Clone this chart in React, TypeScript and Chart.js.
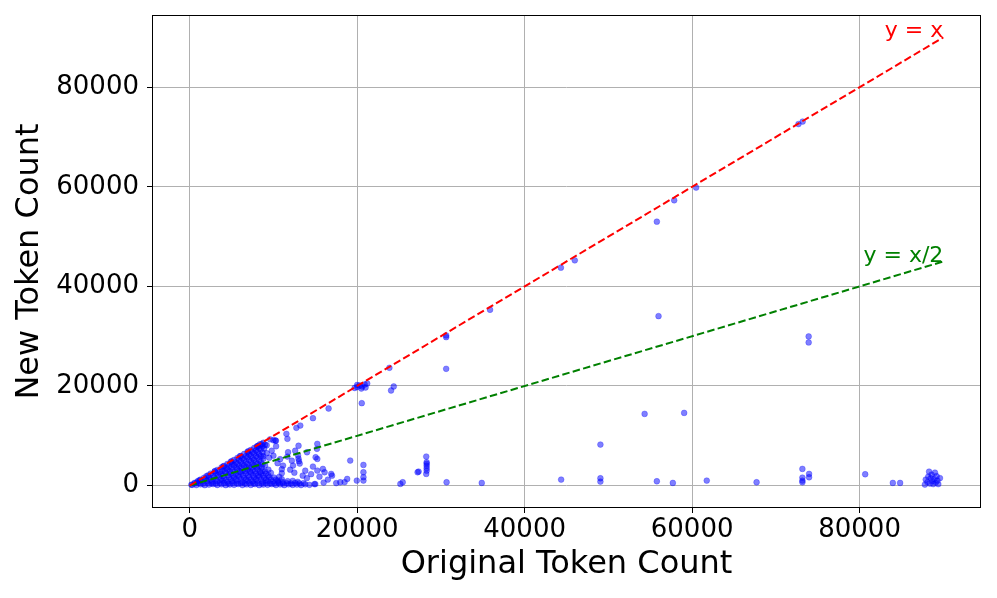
import React, { useEffect, useRef } from "react";
import { Chart, registerables } from "chart.js";

Chart.register(...registerables);

// [original token count, new token count]
const denseCluster: [number, number][] = [
  [300,150],[800,100],[1300,250],[1800,80],[2300,200],[2800,300],[3300,120],[3800,260],[4300,90],[4800,220],
  [5300,150],[5800,300],[6300,100],[6800,240],[7300,130],[7800,280],[8300,90],[8800,200],[9300,150],[9800,280],
  [10300,110],[10800,230],[11300,90],[11800,250],[12300,140],[12800,200],[13300,100],[13800,260],[14300,150],[14900,300],
  [600,450],[1100,520],[1600,400],[2100,550],[2600,470],[3100,420],[3600,530],[4100,480],[4600,410],[5100,540],
  [5600,460],[6100,500],[6600,420],[7100,550],[7600,440],[8100,510],[8600,400],[9100,530],[9600,470],[10100,420],
  [10600,550],[11100,460],[11600,500],[12100,420],[12600,540],[13100,450],[13600,500],
  [900,700],[1500,850],[2100,950],[2700,780],[3300,900],[3900,1000],[4500,760],[5100,880],[5700,990],[6300,720],
  [6900,930],[7500,820],[8100,1000],[8700,760],[9300,900],[9900,820],[10500,980],[11100,720],[11700,880],[12300,950],[12900,760],
  [1300,1200],[1900,1250],[2500,1180],[3100,1300],[3700,1220],[4300,1150],[4900,1280],[5500,1200],[6100,1320],[6700,1170],
  [7300,1260],[7900,1200],[8500,1300],[9100,1150],[9700,1250],[10300,1200],[11000,1300],
  [1700,1550],[2300,1700],[2900,1620],[3500,1780],[4100,1500],[4700,1700],[5300,1600],[5900,1800],[6500,1550],[7100,1720],
  [7700,1640],[8300,1790],[8900,1520],[9500,1700],[10100,1600],[10700,1750],
  [2200,2050],[2800,2000],[3400,2100],[4000,1950],[4600,2080],[5200,2000],[5800,2120],[6400,1980],[7000,2060],[7600,2000],
  [8200,2100],[8800,1960],[9400,2050],
  [2500,2400],[3100,2550],[3700,2350],[4300,2600],[4900,2450],[5500,2300],[6100,2580],[6700,2420],[7300,2600],[7900,2350],
  [8500,2500],[9100,2400],[9700,2550],
  [3000,2850],[3600,2800],[4200,2900],[4800,2780],[5400,2850],[6000,2800],[6600,2920],[7200,2800],[7800,2880],[8400,2760],[9000,2850],
  [3300,3150],[3900,3000],[4500,3250],[5100,3100],[5700,3300],[6300,3050],[6900,3200],[7500,3100],[8100,3280],[8700,3000],[9400,3200],
  [3800,3650],[4400,3600],[5000,3680],[5600,3550],[6200,3650],[6800,3580],[7400,3680],[8000,3600],[8600,3650],
  [4100,3950],[4700,3850],[5300,4100],[5900,3900],[6500,4050],[7100,3800],[7700,4000],[8300,3900],[9000,4100],
  [4500,4350],[5100,4300],[5700,4400],[6300,4280],[6900,4350],[7500,4300],[8100,4400],[8700,4250],
  [4900,4750],[5500,4650],[6100,4850],[6700,4700],[7300,4900],[7900,4600],[8500,4800],
  [5300,5150],[5900,5100],[6500,5200],[7100,5080],[7700,5150],[8300,5100],
  [5700,5550],[6300,5450],[6900,5700],[7500,5500],[8100,5650],[8800,5400],
  [6100,5950],[6700,5900],[7300,6000],[7900,5880],[8500,5950],
  [6500,6350],[7100,6250],[7700,6450],[8300,6300],
  [6900,6750],[7500,6700],[8100,6780],[8700,6650],
  [7300,7150],[7900,7050],[8500,7250],
  [7700,7550],[8300,7500],[8900,7450],
  [8100,7950],[8700,7900],[9200,8100],
  [200,180],[600,560],[1000,950],[1200,1100],[2000,1900],[3000,2900],[4000,3850],[5000,4900],[6000,5900],[7000,6900],
  [8000,7800],[8400,8300],[8800,8600],[9600,9300],[10000,9100],[10300,9000],[9000,8200],[8200,8000],[8600,8300],
];

const midPoints: [number, number][] = [
  [10240,9050],[10320,7900],[11550,10390],[11670,9390],[12740,11600],[13210,12060],[14720,13530],[16590,15480],
  [11750,6700],[11670,5830],[15240,8380],[15200,7380],[15040,5690],[12940,6030],[13000,5400],[13050,4900],[13140,4420],
  [14010,6700],[11150,4020],[12340,4020],[14720,3820],[15240,5360],[15240,3010],[15910,3350],[16110,2680],[16900,2350],
  [19170,5030],[20750,4150],[20750,2680],[20750,1680],[20750,1010],[19960,1000],[18810,1340],[17980,670],[10560,670],
  [11000,2500],[12000,3200],[13500,2000],[14000,1500],[10500,4500],[11000,3300],[12500,2600],[13800,3000],[14500,2300],
  [15500,1800],[16500,1200],[17000,2000],[17500,500],[18500,700],[16000,600],[15000,300],[9500,5600],[10000,6000],
  [9800,7000],[9200,6500],[10800,5300],[12200,5000],[8800,5900],[13000,8000],[12600,7000],
];

const upperPoints: [number, number][] = [
  [19700,19600],[20000,19800],[20300,20100],[20600,19900],[20900,20300],[21200,20500],[20500,19500],[21000,19700],
  [20000,20200],[20550,16550],[24050,19100],[24370,19900],[23850,23650],[30630,30150],[30630,29810],[30630,23450],
  [35870,35310],[44330,43760],[45990,45230],[55790,53000],[57860,57290],[60480,59840],[72700,72600],[73200,73100],
  [55990,34030],[73920,29950],[73920,28740],[54330,14400],[59050,14600],[49050,8240],
];

const lowPoints: [number, number][] = [
  [25160,340],[25440,670],[27220,2680],[27340,2810],[28250,5830],[28300,4700],[28300,4400],[28300,4000],[28300,3500],
  [28300,3000],[28250,2350],[30680,670],[34880,540],[44360,1200],[49050,1470],[49050,800],[55790,870],[57700,540],
  [61750,1000],[67700,670],[73170,3350],[73170,1600],[73170,1000],[73170,670],[73970,2350],[73970,1670],[80670,2280],
  [83970,540],[84840,540],
  [87800,200],[87900,1200],[88100,700],[88200,1800],[88300,2800],[88400,400],[88500,1500],[88600,2200],[88700,900],
  [88800,300],[88900,1300],[89000,2600],[89100,600],[89200,1900],[89300,1000],[89400,300],[89600,1500],
];

const identityLine: [number, number][] = [[0, 0], [90000, 90000]];
const halfLine: [number, number][] = [[0, 0], [90000, 45000]];
const tickValues = [0, 20000, 40000, 60000, 80000];

const FONT = "'DejaVu Sans', sans-serif";

const toXY = (arr: [number, number][]) => arr.map(([x, y]) => ({ x, y }));

const framePlugin = {
  id: "frameAndLabels",
  afterDatasetsDraw(chart: any) {
    const { ctx, chartArea, scales } = chart;
    ctx.save();
    ctx.font = `22px ${FONT}`;
    ctx.textAlign = "right";
    ctx.textBaseline = "alphabetic";
    ctx.fillStyle = "red";
    ctx.fillText("y = x", scales.x.getPixelForValue(identityLine[1][0]), scales.y.getPixelForValue(identityLine[1][1]));
    ctx.fillStyle = "green";
    ctx.fillText("y = x/2", scales.x.getPixelForValue(halfLine[1][0]), scales.y.getPixelForValue(halfLine[1][1]));
    ctx.strokeStyle = "#000";
    ctx.lineWidth = 1;
    ctx.strokeRect(chartArea.left + 0.5, chartArea.top + 0.5, chartArea.right - chartArea.left - 1, chartArea.bottom - chartArea.top - 1);
    ctx.restore();
  },
};

export default function App() {
  const ref = useRef<HTMLCanvasElement>(null);
  useEffect(() => {
    document.body.style.margin = "0";
    const allPoints = [...denseCluster, ...midPoints, ...upperPoints, ...lowPoints];
    const chart = new Chart(ref.current!, {
      type: "scatter",
      data: {
        datasets: [
          {
            type: "line",
            data: toXY(identityLine),
            borderColor: "red",
            borderWidth: 2,
            borderDash: [7.5, 3.3],
            pointRadius: 0,
            fill: false,
            order: 0,
          } as any,
          {
            type: "line",
            data: toXY(halfLine),
            borderColor: "green",
            borderWidth: 2,
            borderDash: [7.5, 3.3],
            pointRadius: 0,
            fill: false,
            order: 1,
          } as any,
          {
            data: toXY(allPoints),
            backgroundColor: "rgba(0,0,255,0.5)",
            borderColor: "rgba(0,0,255,0.35)",
            borderWidth: 0.8,
            pointRadius: 2.9,
            order: 2,
          },
        ],
      },
      options: {
        animation: false,
        responsive: false,
        layout: { padding: { left: 0, right: 16, top: 15, bottom: 0 } },
        plugins: { legend: { display: false }, tooltip: { enabled: false } },
        scales: {
          x: {
            type: "linear",
            min: -4500,
            max: 94500,
            afterBuildTicks: (s: any) => { s.ticks = tickValues.map((v) => ({ value: v })); },
            afterFit: (s: any) => { s.height = 90; s.paddingLeft = 0; s.paddingRight = 0; },
            ticks: { color: "#000", font: { family: FONT, size: 26 }, padding: 2, callback: (v: any) => String(v), maxRotation: 0 },
            grid: { color: "#b0b0b0", lineWidth: 1, tickLength: 5, tickColor: "#000" },
            border: { display: false },
            title: { display: true, text: "Original Token Count", color: "#000", font: { family: FONT, size: 32 }, padding: { top: 0, bottom: 14 } },
          },
          y: {
            type: "linear",
            min: -4500,
            max: 94500,
            afterBuildTicks: (s: any) => { s.ticks = tickValues.map((v) => ({ value: v })); },
            afterFit: (s: any) => { s.width = 152; s.paddingTop = 0; s.paddingBottom = 0; },
            ticks: { color: "#000", font: { family: FONT, size: 26 }, padding: 8, callback: (v: any) => String(v) },
            grid: { color: "#b0b0b0", lineWidth: 1, tickLength: 5, tickColor: "#000" },
            border: { display: false },
            title: { display: true, text: "New Token Count", color: "#000", font: { family: FONT, size: 32 }, padding: { top: 10, bottom: 0 } },
          },
        },
      },
      plugins: [framePlugin],
    });
    return () => chart.destroy();
  }, []);
  return (
    <div style={{ width: 997, height: 598 }}>
      <canvas ref={ref} width={997} height={598} style={{ display: "block" }} />
    </div>
  );
}
